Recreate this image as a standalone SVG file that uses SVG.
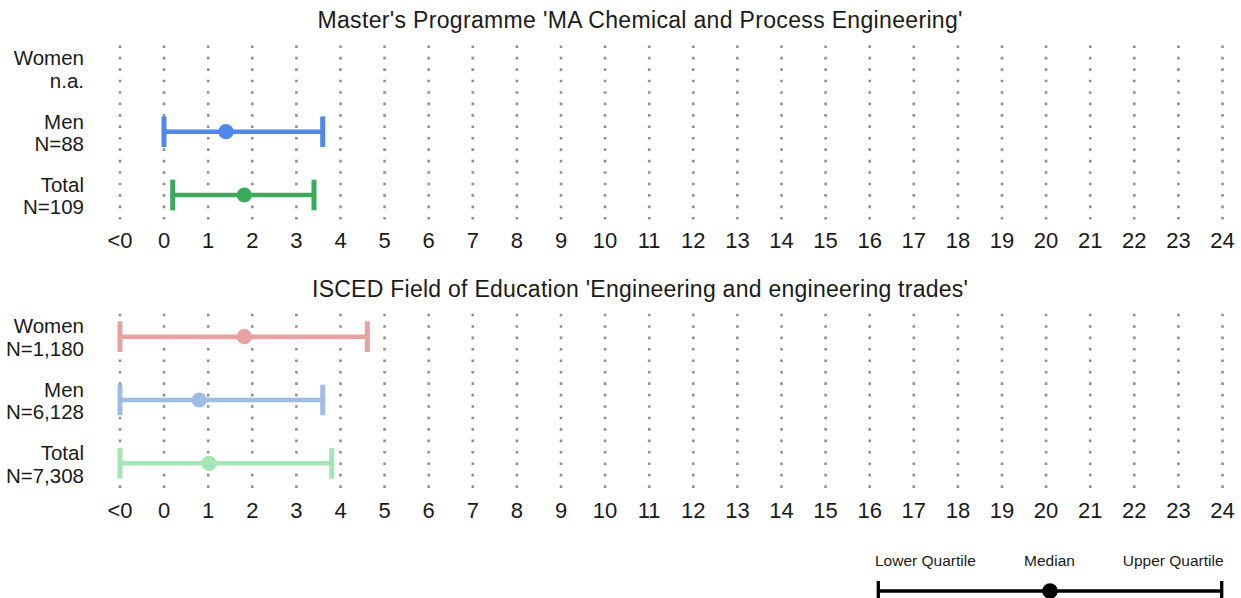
<svg xmlns="http://www.w3.org/2000/svg" width="1241" height="598" viewBox="0 0 1241 598">
<style>
text{font-family:"Liberation Sans",Arial,Helvetica,sans-serif;fill:#1a1a1a}
.title{font-size:23px;text-anchor:middle}
.ax{font-size:22px;text-anchor:middle}
.lab{font-size:20.5px;text-anchor:end}
.leg{font-size:15.5px}
.grid{fill:none;stroke:#8f8f8f;stroke-width:2.6;stroke-dasharray:2.6 8.84}
.bar{stroke-width:4.6;fill:none}
.cap{stroke-width:5;fill:none}
</style>
<rect width="1241" height="598" fill="#ffffff"/>

<g id="panel-top">
  <text class="title" x="640" y="28.3" textLength="645" lengthAdjust="spacing">Master's Programme 'MA Chemical and Process Engineering'</text>
  <path class="grid" d="M120,45.4V220M164.1,45.4V220M208.2,45.4V220M252.3,45.4V220M296.4,45.4V220M340.5,45.4V220M384.6,45.4V220M428.7,45.4V220M472.8,45.4V220M516.9,45.4V220M561,45.4V220M605.1,45.4V220M649.2,45.4V220M693.3,45.4V220M737.4,45.4V220M781.5,45.4V220M825.6,45.4V220M869.7,45.4V220M913.8,45.4V220M957.9,45.4V220M1002,45.4V220M1046.1,45.4V220M1090.2,45.4V220M1134.3,45.4V220M1178.4,45.4V220M1222.5,45.4V220"/>
  <g id="top-axis">
    <text class="ax" x="120" y="248.3">&lt;0</text>
    <text class="ax" x="164.1" y="248.3">0</text>
    <text class="ax" x="208.2" y="248.3">1</text>
    <text class="ax" x="252.3" y="248.3">2</text>
    <text class="ax" x="296.4" y="248.3">3</text>
    <text class="ax" x="340.5" y="248.3">4</text>
    <text class="ax" x="384.6" y="248.3">5</text>
    <text class="ax" x="428.7" y="248.3">6</text>
    <text class="ax" x="472.8" y="248.3">7</text>
    <text class="ax" x="516.9" y="248.3">8</text>
    <text class="ax" x="561" y="248.3">9</text>
    <text class="ax" x="605.1" y="248.3">10</text>
    <text class="ax" x="649.2" y="248.3">11</text>
    <text class="ax" x="693.3" y="248.3">12</text>
    <text class="ax" x="737.4" y="248.3">13</text>
    <text class="ax" x="781.5" y="248.3">14</text>
    <text class="ax" x="825.6" y="248.3">15</text>
    <text class="ax" x="869.7" y="248.3">16</text>
    <text class="ax" x="913.8" y="248.3">17</text>
    <text class="ax" x="957.9" y="248.3">18</text>
    <text class="ax" x="1002" y="248.3">19</text>
    <text class="ax" x="1046.1" y="248.3">20</text>
    <text class="ax" x="1090.2" y="248.3">21</text>
    <text class="ax" x="1134.3" y="248.3">22</text>
    <text class="ax" x="1178.4" y="248.3">23</text>
    <text class="ax" x="1222.5" y="248.3">24</text>
  </g>
  <g id="top-women">
    <text class="lab" x="84" y="65.2">Women</text>
    <text class="lab" x="84" y="87.8">n.a.</text>
  </g>
  <g id="top-men">
    <text class="lab" x="84" y="128.5">Men</text>
    <text class="lab" x="84" y="151.2">N=88</text>
    <g stroke="#5087EA" fill="#5087EA">
      <line class="bar" x1="164" y1="131.7" x2="322.7" y2="131.7"/>
      <line class="cap" x1="164" y1="116.4" x2="164" y2="147"/>
      <line class="cap" x1="322.7" y1="116.4" x2="322.7" y2="147"/>
      <circle cx="226" cy="131.7" r="7.6" stroke="none"/>
    </g>
  </g>
  <g id="top-total">
    <text class="lab" x="84" y="191.6">Total</text>
    <text class="lab" x="84" y="214.3">N=109</text>
    <g stroke="#3CAA5C" fill="#3CAA5C">
      <line class="bar" x1="172.7" y1="195" x2="314" y2="195"/>
      <line class="cap" x1="172.7" y1="179.7" x2="172.7" y2="210.3"/>
      <line class="cap" x1="314" y1="179.7" x2="314" y2="210.3"/>
      <circle cx="244.3" cy="195" r="7.6" stroke="none"/>
    </g>
  </g>
</g>

<g id="panel-bottom">
  <text class="title" x="640" y="296.7" textLength="656" lengthAdjust="spacing">ISCED Field of Education 'Engineering and engineering trades'</text>
  <path class="grid" d="M120,313.7V488M164.1,313.7V488M208.2,313.7V488M252.3,313.7V488M296.4,313.7V488M340.5,313.7V488M384.6,313.7V488M428.7,313.7V488M472.8,313.7V488M516.9,313.7V488M561,313.7V488M605.1,313.7V488M649.2,313.7V488M693.3,313.7V488M737.4,313.7V488M781.5,313.7V488M825.6,313.7V488M869.7,313.7V488M913.8,313.7V488M957.9,313.7V488M1002,313.7V488M1046.1,313.7V488M1090.2,313.7V488M1134.3,313.7V488M1178.4,313.7V488M1222.5,313.7V488"/>
  <g id="bottom-axis">
    <text class="ax" x="120" y="517.5">&lt;0</text>
    <text class="ax" x="164.1" y="517.5">0</text>
    <text class="ax" x="208.2" y="517.5">1</text>
    <text class="ax" x="252.3" y="517.5">2</text>
    <text class="ax" x="296.4" y="517.5">3</text>
    <text class="ax" x="340.5" y="517.5">4</text>
    <text class="ax" x="384.6" y="517.5">5</text>
    <text class="ax" x="428.7" y="517.5">6</text>
    <text class="ax" x="472.8" y="517.5">7</text>
    <text class="ax" x="516.9" y="517.5">8</text>
    <text class="ax" x="561" y="517.5">9</text>
    <text class="ax" x="605.1" y="517.5">10</text>
    <text class="ax" x="649.2" y="517.5">11</text>
    <text class="ax" x="693.3" y="517.5">12</text>
    <text class="ax" x="737.4" y="517.5">13</text>
    <text class="ax" x="781.5" y="517.5">14</text>
    <text class="ax" x="825.6" y="517.5">15</text>
    <text class="ax" x="869.7" y="517.5">16</text>
    <text class="ax" x="913.8" y="517.5">17</text>
    <text class="ax" x="957.9" y="517.5">18</text>
    <text class="ax" x="1002" y="517.5">19</text>
    <text class="ax" x="1046.1" y="517.5">20</text>
    <text class="ax" x="1090.2" y="517.5">21</text>
    <text class="ax" x="1134.3" y="517.5">22</text>
    <text class="ax" x="1178.4" y="517.5">23</text>
    <text class="ax" x="1222.5" y="517.5">24</text>
  </g>
  <g id="bottom-women">
    <text class="lab" x="84" y="333.3">Women</text>
    <text class="lab" x="84" y="356">N=1,180</text>
    <g stroke="#E6A1A1" fill="#E6A1A1">
      <line class="bar" x1="120" y1="336.7" x2="367.3" y2="336.7"/>
      <line class="cap" x1="120" y1="321.4" x2="120" y2="352"/>
      <line class="cap" x1="367.3" y1="321.4" x2="367.3" y2="352"/>
      <circle cx="244.3" cy="336.7" r="7.6" stroke="none"/>
    </g>
  </g>
  <g id="bottom-men">
    <text class="lab" x="84" y="396.6">Men</text>
    <text class="lab" x="84" y="419.3">N=6,128</text>
    <g stroke="#9FBCE6" fill="#9FBCE6">
      <line class="bar" x1="120" y1="400" x2="322.7" y2="400"/>
      <line class="cap" x1="120" y1="384.7" x2="120" y2="415.3"/>
      <line class="cap" x1="322.7" y1="384.7" x2="322.7" y2="415.3"/>
      <circle cx="199.3" cy="400" r="7.6" stroke="none"/>
    </g>
  </g>
  <g id="bottom-total">
    <text class="lab" x="84" y="459.9">Total</text>
    <text class="lab" x="84" y="482.6">N=7,308</text>
    <g stroke="#A3E5B4" fill="#A3E5B4">
      <line class="bar" x1="120" y1="463.3" x2="331.7" y2="463.3"/>
      <line class="cap" x1="120" y1="448" x2="120" y2="478.6"/>
      <line class="cap" x1="331.7" y1="448" x2="331.7" y2="478.6"/>
      <circle cx="209" cy="463.3" r="7.6" stroke="none"/>
    </g>
  </g>
</g>

<g id="legend">
  <text class="leg" x="875" y="566">Lower Quartile</text>
  <text class="leg" x="1049.5" y="566" text-anchor="middle">Median</text>
  <text class="leg" x="1223.5" y="566" text-anchor="end">Upper Quartile</text>
  <g stroke="#000000" fill="#000000">
    <line x1="878.3" y1="591" x2="1221.7" y2="591" stroke-width="3.3"/>
    <line x1="878.3" y1="581" x2="878.3" y2="601" stroke-width="3.3"/>
    <line x1="1221.7" y1="581" x2="1221.7" y2="601" stroke-width="3.3"/>
    <circle cx="1050" cy="591" r="7.8" stroke="none"/>
  </g>
</g>
</svg>
